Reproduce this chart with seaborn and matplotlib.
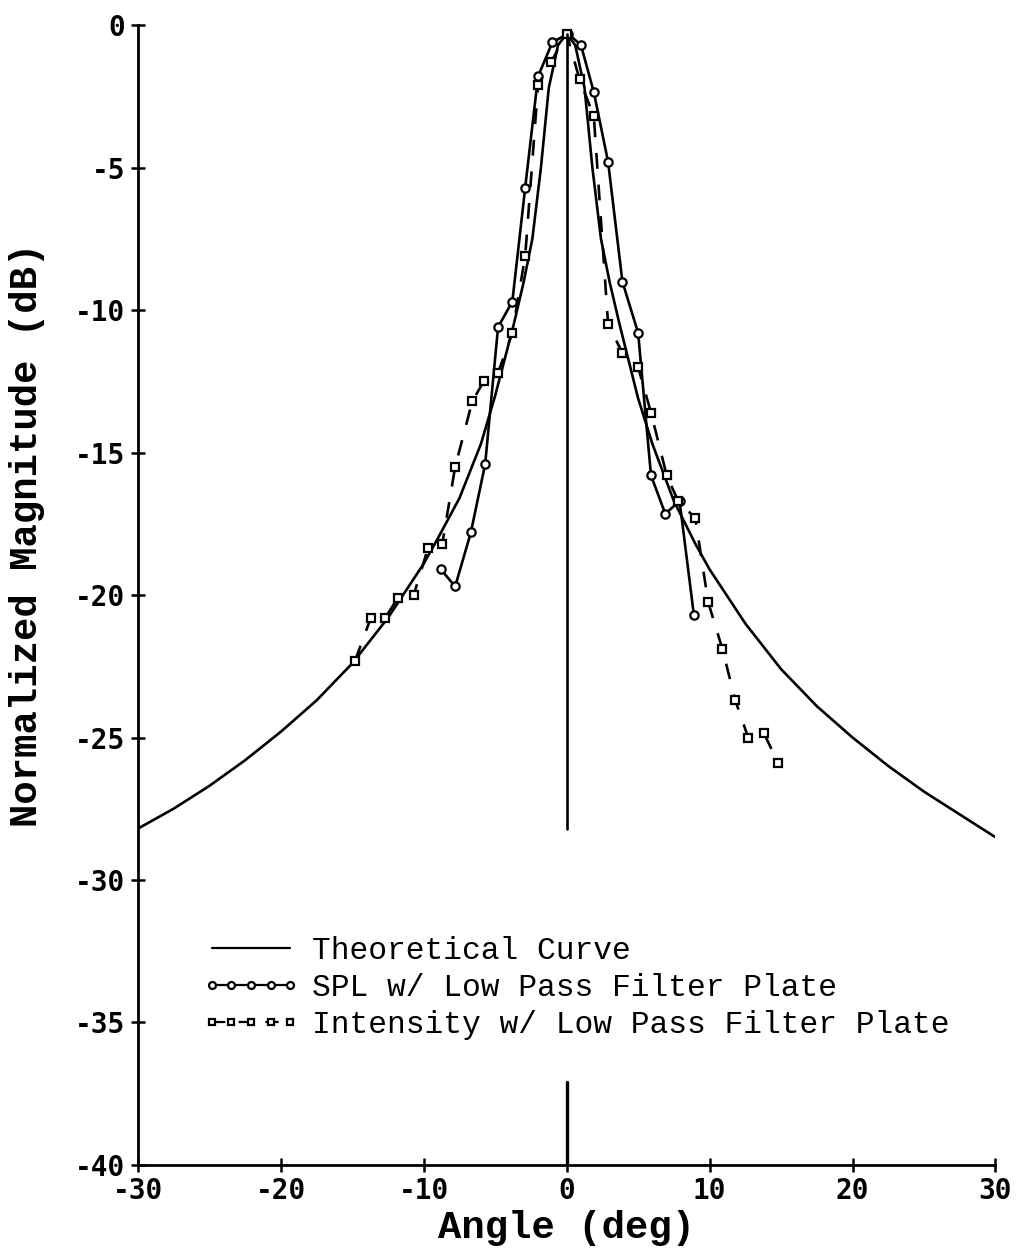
import numpy as np
import pandas as pd
import matplotlib
matplotlib.use("Agg")
import matplotlib.pyplot as plt
import seaborn as sns

# theoretical beam pattern
theo_x = [-30, -27.5, -25, -22.5, -20, -17.5, -15, -12.5, -10, -9, -7.5, -6, -5, -3.7, -3.0, -2.4,
          -1.8, -1.25, -0.6, 0, 0.6, 1.25, 1.8, 2.4, 3.0, 3.7, 5, 6, 7.5, 9, 10, 12.5, 15, 17.5,
          20, 22.5, 25, 27.5, 30]
theo_y = [-28.2, -27.5, -26.7, -25.8, -24.8, -23.7, -22.4, -20.8, -18.9, -18.0, -16.6, -14.7, -13.0,
          -10.5, -9.0, -7.5, -5.0, -2.2, -0.7, -0.3, -0.7, -2.2, -5.0, -7.5, -9.0, -10.5, -13.1,
          -14.7, -16.7, -18.2, -19.1, -21.0, -22.6, -23.9, -25.0, -26.0, -26.9, -27.7, -28.5]

# vertical marker line at 0 deg
center_x = [0, 0]
center_y = [-0.3, -28.2]
stub_y = [-37.1, -40]

# SPL w/ low pass filter plate
spl_x = [-8.8, -7.8, -6.7, -5.7, -4.8, -3.8, -2.9, -2.0, -1.0, 0.1, 1.0, 1.9, 2.9, 3.9, 5.0,
         5.9, 6.9, 7.9, 8.9]
spl_y = [-19.1, -19.7, -17.8, -15.4, -10.6, -9.7, -5.7, -1.8, -0.6, -0.3, -0.7, -2.35, -4.8,
         -9.0, -10.8, -15.8, -17.15, -16.7, -20.7]

# Intensity w/ low pass filter plate
int_x = [-14.8, -13.7, -12.7, -11.8, -10.7, -9.7, -8.7, -7.8, -6.6, -5.8, -4.8, -3.8, -2.9,
         -2.0, -1.1, 0.0, 0.9, 1.9, 2.9, 3.9, 5.0, 5.9, 7.0, 7.8, 9.0, 9.9, 10.9, 11.8, 12.7,
         13.8, 14.8]
int_y = [-22.3, -20.8, -20.8, -20.1, -20.0, -18.35, -18.2, -15.5, -13.2, -12.5, -12.2, -10.8,
         -8.1, -2.1, -1.3, -0.3, -1.9, -3.2, -10.5, -11.5, -12.0, -13.6, -15.8, -16.7, -17.3,
         -20.25, -21.9, -23.7, -25.0, -24.85, -25.9]

sns.set_style("ticks", {"axes.edgecolor": "black", "xtick.color": "black",
                        "ytick.color": "black", "text.color": "black",
                        "axes.labelcolor": "black"})
plt.rcParams["axes.unicode_minus"] = False
plt.rcParams["font.family"] = ["DejaVu Sans Mono", "DejaVu Sans"]

theo_df = pd.DataFrame({"Angle": theo_x, "Mag": theo_y})
spl_df = pd.DataFrame({"Angle": spl_x, "Mag": spl_y})
int_df = pd.DataFrame({"Angle": int_x, "Mag": int_y})

fig = plt.figure(figsize=(10.21, 12.58), dpi=100)
ax = fig.add_axes([0.135, 0.074, 0.84, 0.906])

lw = 1.9
sns.lineplot(data=theo_df, x="Angle", y="Mag", color="black", lw=lw, sort=False,
             estimator=None, ax=ax, label="Theoretical Curve")
sns.lineplot(data=spl_df, x="Angle", y="Mag", color="black", lw=lw, sort=False,
             estimator=None, ax=ax, marker="o", markersize=6, markerfacecolor="white",
             markeredgecolor="black", markeredgewidth=1.6,
             label="SPL w/ Low Pass Filter Plate")
sns.lineplot(data=int_df, x="Angle", y="Mag", color="black", lw=lw, sort=False,
             estimator=None, ax=ax, marker="s", markersize=5.5, markerfacecolor="white",
             markeredgecolor="black", markeredgewidth=1.6,
             label="Intensity w/ Low Pass Filter Plate")
ax.lines[-1].set_dashes((6, 6))

ax.plot(center_x, center_y, color="black", lw=lw)
ax.plot(center_x, stub_y, color="black", lw=2.4)

ax.set_xlim(-30, 30)
ax.set_ylim(-40, 0)
ax.set_xticks(np.arange(-30, 31, 10))
ax.set_yticks(np.arange(-40, 1, 5))
ax.tick_params(direction="inout", length=10, width=1.8, labelsize=20, pad=4)
for lab in ax.get_xticklabels() + ax.get_yticklabels():
    lab.set_fontweight("bold")

sns.despine(ax=ax)
for side in ["left", "bottom"]:
    ax.spines[side].set_linewidth(2.0)

ax.set_xlabel("Angle (deg)", fontsize=28, fontweight="bold", family="Liberation Mono")
ax.set_ylabel("Normalized Magnitude (dB)", fontsize=28, fontweight="bold",
              family="Liberation Mono")
ax.xaxis.set_label_coords(0.5, -0.04)
ax.yaxis.set_label_coords(-0.108, 0.553)

leg = ax.legend(loc="upper left", bbox_to_anchor=(0.05, 0.22), frameon=False, numpoints=5,
                handlelength=3.1, handletextpad=0.4, labelspacing=0.22, borderpad=0.2,
                prop={"family": "Liberation Mono", "size": 22.5})
for h in leg.legend_handles:
    h.set_linewidth(1.6)
    h.set_markersize(5)

fig.savefig("out.png", dpi=100)
